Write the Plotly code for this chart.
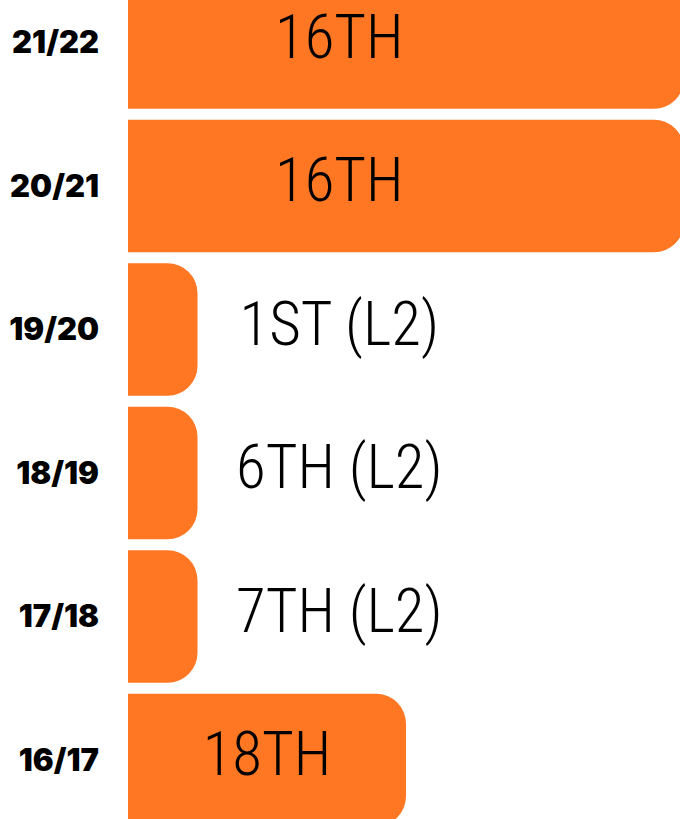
import plotly.graph_objects as go

# Data
seasons = ["16/17", "17/18", "18/19", "19/20", "20/21", "21/22"]
bar_values = [2, 0.5, 0.5, 0.5, 4, 4]
finish_labels = ["18TH", "7TH (L2)", "6TH (L2)", "1ST (L2)", "16TH", "16TH"]

ORANGE = "#FF7722"
LABEL_CAP = 1.52  # data-unit cap for label centre

# label centre: middle of bar, capped; short (L2) bars put label at cap
label_x = [min(v / 2, LABEL_CAP) if v >= 1 else LABEL_CAP for v in bar_values]

fig = go.Figure()
fig.add_trace(go.Bar(
    y=seasons, x=bar_values, orientation="h",
    marker=dict(color=ORANGE, cornerradius=30, line=dict(width=0)),
    width=0.923, hoverinfo="skip",
))
fig.add_trace(go.Scatter(
    y=seasons, x=label_x, mode="text", text=finish_labels,
    textposition="middle center",
    textfont=dict(family="Roboto Condensed, DejaVu Sans Condensed, sans-serif",
                  size=61, color="#000000", weight=300),
    hoverinfo="skip",
))

fig.update_layout(
    width=680, height=819,
    margin=dict(l=128, r=0, t=0, b=0),
    paper_bgcolor="white", plot_bgcolor="white",
    showlegend=False, hovermode=False,
    xaxis=dict(visible=False, range=[0, 3.971], fixedrange=True),
    yaxis=dict(
        type="category", categoryorder="array", categoryarray=seasons,
        range=[-0.411, 5.296], showgrid=False, zeroline=False, showline=False,
        ticks="", ticklabelstandoff=28,
        tickfont=dict(family="Inter, DejaVu Sans", size=31, color="#000000", weight=900),
        fixedrange=True,
    ),
)

fig.write_html("out.html", config={"displayModeBar": False},
               post_script="document.body.style.margin='0';")
